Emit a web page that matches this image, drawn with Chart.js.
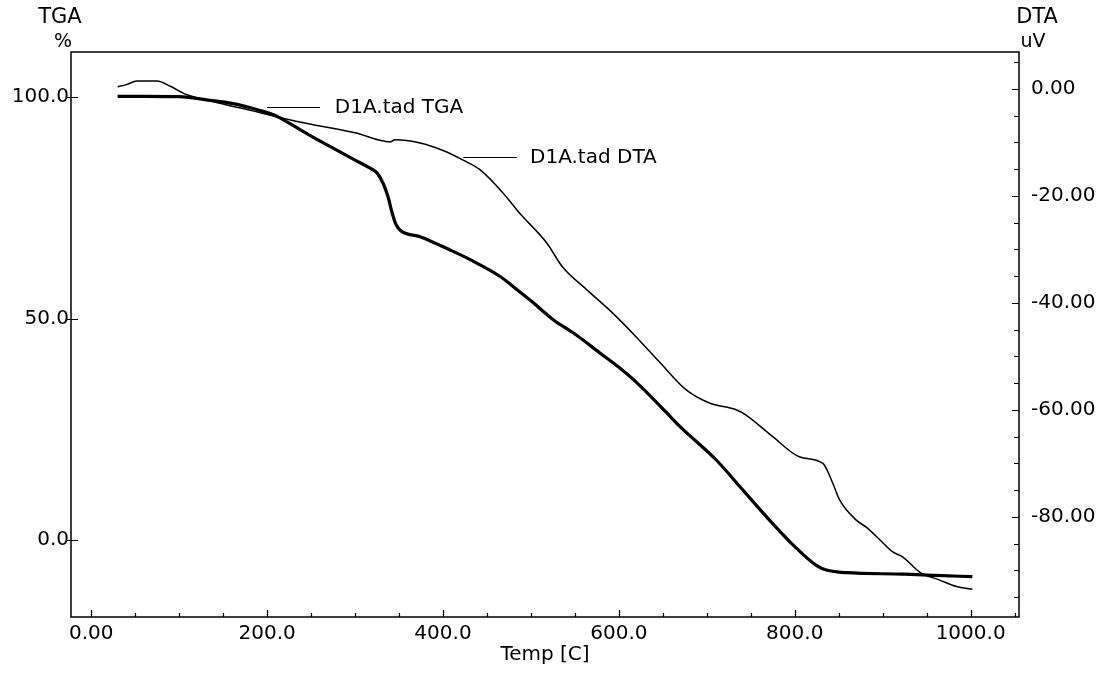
<!DOCTYPE html>
<html>
<head>
<meta charset="utf-8">
<title>D1A TGA / DTA</title>
<script src="https://cdn.jsdelivr.net/npm/chart.js@4.4.1/dist/chart.umd.min.js"></script>
<style>
  html, body { margin: 0; padding: 0; background: #fff; }
  #wrap { width: 1107px; height: 677px; }
</style>
</head>
<body>
<div id="wrap"><canvas id="tadChart" width="1107" height="677"></canvas></div>
<script>
// D1A.tad run: mass loss (TGA, %) and DTA signal (uV) against temperature (C)
const tgaTemp = [30, 60, 100, 135, 160, 192, 210, 226, 250, 275, 300, 315, 325, 332, 337.5, 342, 346, 351,
                 374, 408, 431, 465, 480, 500, 525, 550, 578, 600, 620, 654, 669, 711, 740, 768, 800, 825,
                 836, 859, 923, 960, 1002];
const tgaMass = [100.2, 100.2, 100.1, 99.3, 98.6, 97.0, 95.8, 94.0, 91.2, 88.5, 85.8, 84.2, 82.9, 80.5, 77.5, 74.0, 71.5, 70.0,
                 68.5, 65.5, 63.3, 59.5, 57.2, 54.0, 49.8, 46.5, 42.3, 39.0, 35.6, 28.8, 25.7, 18.0, 11.5, 5.2, -1.5, -5.8,
                 -6.8, -7.4, -7.7, -8.0, -8.3];

const dtaTemp = [30, 40, 52, 75, 90, 109, 150, 189, 215, 250, 300, 340, 345, 374, 400, 423, 442, 468, 487, 518,
                 536, 564, 593, 620, 647, 677, 703, 734, 745, 775, 806, 832, 843, 851, 870, 882, 897, 911, 923,
                 942, 965, 984, 1002];
const dtaSignal = [0.4, 0.8, 1.5, 1.5, 0.5, -1.1, -2.8, -4.3, -5.4, -6.6, -8.2, -9.9, -9.5, -10.1, -11.5, -13.3, -15.1, -19.4, -23.2, -28.8,
                   -33.3, -37.6, -41.9, -46.4, -51.2, -56.3, -58.7, -60.0, -61.0, -65.0, -68.8, -70.0, -73.6, -76.8, -80.6, -82.0, -84.3, -86.5, -87.5,
                   -90.3, -91.8, -93.0, -93.5];

// axis ticks
const tempTicks = [0, 200, 400, 600, 800, 1000];
const tgaTicks = [0, 50, 100];
const dtaTicks = [0, -20, -40, -60, -80];

const FONT = '"DejaVu Sans", sans-serif';
const INK = '#000';

const toPoints = (xs, ys) => xs.map((x, i) => ({ x: x, y: ys[i] }));
const fixedTicks = list => scale => { scale.ticks = list.map(v => ({ value: v })); };

// frame, inner tick marks, axis headings and curve labels
const tadDecor = {
    id: 'tadDecor',
    afterDatasetsDraw(chart) {
        const { ctx, chartArea: a, scales } = chart;
        const x = scales.x, yl = scales.yTga, yr = scales.yDta;
        ctx.save();
        ctx.strokeStyle = INK;
        ctx.lineWidth = 1.5;
        ctx.strokeRect(a.left, a.top, a.right - a.left, a.bottom - a.top);

        ctx.lineWidth = 1.2;
        ctx.beginPath();
        // temperature axis: long tick every 200, short every 50
        for (let v = 0; v <= 1050; v += 50) {
            const px = Math.round(x.getPixelForValue(v)) + 0.5;
            const len = v % 200 === 0 ? 7 : 4;
            ctx.moveTo(px, a.bottom);
            ctx.lineTo(px, a.bottom - len);
        }
        // TGA axis ticks cross the left edge
        tgaTicks.forEach(v => {
            const py = Math.round(yl.getPixelForValue(v)) + 0.5;
            ctx.moveTo(a.left - 4, py);
            ctx.lineTo(a.left + 7, py);
        });
        // DTA axis: tick every 5 uV
        for (let v = -95; v <= 5; v += 5) {
            const py = Math.round(yr.getPixelForValue(v)) + 0.5;
            const len = v % 20 === 0 ? 7 : 5;
            ctx.moveTo(a.right, py);
            ctx.lineTo(a.right - len, py);
        }
        ctx.stroke();

        ctx.fillStyle = INK;
        ctx.textAlign = 'center';
        ctx.textBaseline = 'middle';
        ctx.font = '21px ' + FONT;
        ctx.fillText('TGA', a.left - 11, 18);
        ctx.fillText('DTA', a.right + 18, 18);
        ctx.font = '19px ' + FONT;
        ctx.fillText('%', a.left - 8, 42);
        ctx.fillText('uV', a.right + 14, 42);

        // curve labels with leader lines
        ctx.lineWidth = 1.2;
        ctx.font = '20px ' + FONT;
        ctx.textAlign = 'left';
        const tgaY = Math.round(yl.getPixelForValue(97.7)) + 0.5;
        ctx.beginPath();
        ctx.moveTo(x.getPixelForValue(200), tgaY);
        ctx.lineTo(x.getPixelForValue(260), tgaY);
        const dtaY = Math.round(yr.getPixelForValue(-12.7)) + 0.5;
        ctx.moveTo(x.getPixelForValue(423), dtaY);
        ctx.lineTo(x.getPixelForValue(484), dtaY);
        ctx.stroke();
        ctx.fillText('D1A.tad TGA', x.getPixelForValue(277), tgaY);
        ctx.fillText('D1A.tad DTA', x.getPixelForValue(499), dtaY);
        ctx.restore();
    }
};

new Chart(document.getElementById('tadChart'), {
    type: 'line',
    data: {
        datasets: [
            {
                label: 'D1A.tad TGA',
                data: toPoints(tgaTemp, tgaMass),
                yAxisID: 'yTga',
                borderColor: '#000',
                borderWidth: 3.2,
                pointRadius: 0,
                cubicInterpolationMode: 'monotone',
                fill: false
            },
            {
                label: 'D1A.tad DTA',
                data: toPoints(dtaTemp, dtaSignal),
                yAxisID: 'yDta',
                borderColor: '#000',
                borderWidth: 1.5,
                pointRadius: 0,
                cubicInterpolationMode: 'monotone',
                fill: false
            }
        ]
    },
    options: {
        responsive: false,
        animation: false,
        devicePixelRatio: 1,
        layout: { padding: { top: 52, left: 0, right: 0, bottom: 0 } },
        plugins: {
            legend: { display: false },
            tooltip: { enabled: false }
        },
        scales: {
            x: {
                type: 'linear',
                min: -23,
                max: 1055,
                afterBuildTicks: fixedTicks(tempTicks),
                afterFit: s => { s.height = 60; },
                grid: { display: false, drawTicks: false },
                border: { display: false },
                ticks: {
                    color: INK,
                    font: { family: FONT, size: 20 },
                    padding: 5,
                    maxRotation: 0,
                    autoSkip: false,
                    callback: v => v === 0 ? '0.00' : v.toFixed(1)
                },
                title: {
                    display: true,
                    text: 'Temp [C]',
                    color: INK,
                    font: { family: FONT, size: 20 },
                    padding: { top: 0, bottom: 10 }
                }
            },
            yTga: {
                type: 'linear',
                position: 'left',
                min: -17.4,
                max: 110.2,
                afterBuildTicks: fixedTicks(tgaTicks),
                afterFit: s => { s.width = 71; },
                grid: { display: false, drawTicks: false },
                border: { display: false },
                ticks: {
                    color: INK,
                    font: { family: FONT, size: 20 },
                    padding: 2,
                    autoSkip: false,
                    callback: v => v.toFixed(1)
                }
            },
            yDta: {
                type: 'linear',
                position: 'right',
                min: -98.7,
                max: 6.9,
                afterBuildTicks: fixedTicks(dtaTicks),
                afterFit: s => { s.width = 88; },
                grid: { display: false, drawTicks: false },
                border: { display: false },
                ticks: {
                    color: INK,
                    font: { family: FONT, size: 20 },
                    padding: 12,
                    autoSkip: false,
                    callback: v => v.toFixed(2)
                }
            }
        }
    },
    plugins: [tadDecor]
});
</script>
</body>
</html>
